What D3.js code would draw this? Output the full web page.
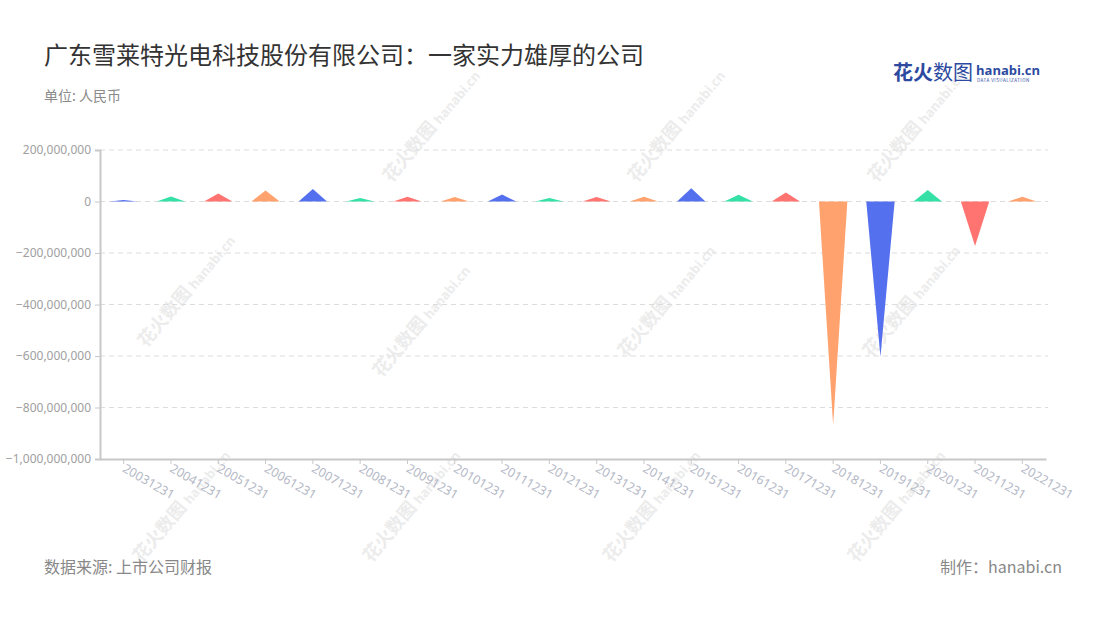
<!DOCTYPE html>
<html><head><meta charset="utf-8">
<script src="https://cdn.jsdelivr.net/npm/d3@7/dist/d3.min.js"></script>
<style>
body{margin:0;background:#fff;}
svg{display:block;font-family:"Noto Sans CJK SC","Noto Sans",sans-serif;}
</style></head>
<body>
<svg id="c" width="1100" height="620"></svg>
<script>
const categories = ["20031231","20041231","20051231","20061231","20071231","20081231","20091231","20101231","20111231","20121231","20131231","20141231","20151231","20161231","20171231","20181231","20191231","20201231","20211231","20221231"];
const values = [6000000,19000000,31000000,43000000,49000000,14000000,18000000,17000000,27000000,14000000,17000000,18000000,51000000,26000000,35000000,-868000000,-603000000,45000000,-173000000,18000000];
const yTicks = [200000000,0,-200000000,-400000000,-600000000,-800000000,-1000000000];
const palette = ["#5470ee","#35e0a6","#ff7470","#ffa26e"];

(function(){
const svg = d3.select("#c");
const pL = 100, pR = 1046, pT = 150, pB = 459;

const x = d3.scaleBand().domain(categories).range([pL, pR]);
const y = d3.scaleLinear().domain([-1000000000, 200000000]).range([pB, pT]);

// watermarks
const wmPos = [[440,125],[685,125],[925,125],[195,290],[430,320],[675,300],[920,300],[190,505],[420,505],[660,505],[905,505]];
const wm = svg.append("g");
wmPos.forEach(p=>{
  const g = wm.append("g").attr("transform",`translate(${p[0]},${p[1]}) rotate(-50)`);
  g.append("text").attr("x",-4).attr("text-anchor","end").attr("font-size",18).attr("font-weight",700)
    .attr("fill","#ececec").text("花火数图");
  g.append("text").attr("x",0).attr("text-anchor","start").attr("font-size",13).attr("font-weight",700)
    .attr("font-family","'Open Sans',sans-serif").attr("fill","#ececec").text("hanabi.cn");
});

// grid
svg.append("g").selectAll("line").data(yTicks.filter(d=>d!==-1000000000)).join("line")
  .attr("x1",pL).attr("x2",pR+2).attr("y1",d=>y(d)).attr("y2",d=>y(d))
  .attr("stroke","#dcdcdc").attr("stroke-dasharray","5,4").attr("stroke-width",1);

// y axis
const ya = svg.append("g").attr("transform",`translate(${pL},0)`)
  .call(d3.axisLeft(y).tickValues(yTicks).tickSize(5).tickPadding(4).tickFormat(d3.format(",")));
ya.select(".domain").attr("stroke","#c8c8c8").attr("stroke-width",2);
ya.selectAll(".tick line").attr("stroke","#c8c8c8");
ya.selectAll("text").attr("fill","#a0a0a0").attr("font-size",12).attr("font-family","'Noto Sans',sans-serif");

// x axis
const xa = svg.append("g").attr("transform",`translate(0,${pB})`)
  .call(d3.axisBottom(x).tickSize(5).tickSizeOuter(0));
xa.select(".domain").attr("stroke","#c8c8c8").attr("stroke-width",2);
xa.selectAll(".tick line").attr("stroke","#c8c8c8");
xa.selectAll("text").attr("fill","#b4b8c6").attr("font-size",12.5).attr("font-family","'Noto Sans',sans-serif")
  .attr("text-anchor","start").attr("dy",0).attr("y",0)
  .attr("transform","translate(-2,12) rotate(30)");

// triangles
const tw = x.bandwidth()*0.6;
svg.append("g").selectAll("path").data(values).join("path")
  .attr("d",(d,i)=>{
    const cx = x(categories[i]) + x.bandwidth()/2;
    const y0 = y(0), y1 = y(d);
    return `M${cx-tw/2},${y0}L${cx},${y1}L${cx+tw/2},${y0}Z`;
  })
  .attr("fill",(d,i)=>palette[i%4]);

// title
svg.append("text").attr("x",44).attr("y",64).attr("font-size",24).attr("fill","#333").text("广东雪莱特光电科技股份有限公司：一家实力雄厚的公司");
svg.append("text").attr("x",44).attr("y",101).attr("font-size",14).attr("fill","#8a8a8a").text("单位: 人民币");

// logo
svg.append("text").attr("x",893).attr("y",80).attr("font-size",20).attr("font-weight",700).attr("fill","#2d4aa0").text("花火");
svg.append("text").attr("x",933).attr("y",80).attr("font-size",20).attr("fill","#2d4aa0").text("数图");
svg.append("text").attr("x",976).attr("y",75).attr("font-size",13).attr("font-weight",700).attr("fill","#2d4aa0")
  .attr("font-family","'Open Sans',sans-serif").text("hanabi.cn");
svg.append("text").attr("x",977).attr("y",82).attr("font-size",4.5).attr("fill","#2d4aa0").attr("letter-spacing",0.5).text("DATA VISUALIZATION");

// footer
svg.append("text").attr("x",44).attr("y",573).attr("font-size",16).attr("fill","#888").text("数据来源: 上市公司财报");
svg.append("text").attr("x",1062).attr("y",573).attr("text-anchor","end").attr("font-size",16).attr("fill","#888").text("制作：hanabi.cn");
})();
</script>
</body></html>
